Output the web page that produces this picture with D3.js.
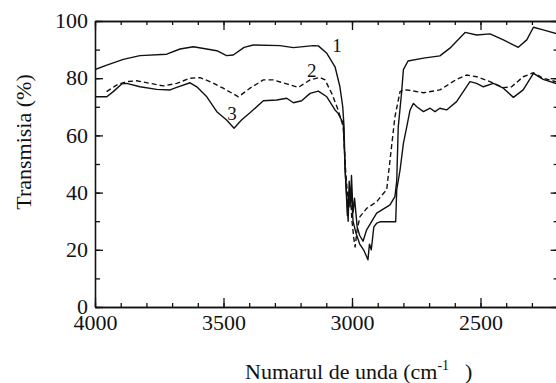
<!DOCTYPE html>
<html>
<head>
<meta charset="utf-8">
<script src="https://cdn.jsdelivr.net/npm/d3@7"></script>
<style>
	body { margin: 0; background: #fff; }
	svg text { font-family: "Liberation Serif", "DejaVu Serif", serif !important; fill: #111; }
	.axis path, .axis line { stroke: #111; stroke-width: 1.3; }
</style>
</head>
<body>
<div id="chart"></div>
<script>
"use strict";

var SERIF = "'Liberation Serif', 'DejaVu Serif', serif";

// spectrum 1 (solid, upper)
var wave1 = [4000, 3954, 3890, 3825, 3721, 3669, 3617, 3526, 3488, 3462,
	3420, 3384, 3280, 3228, 3150, 3131, 3098, 3066, 3047, 3036,
	3031, 3027, 3020, 3015, 3011, 3006, 3002, 2996, 2990, 2980,
	2970, 2957, 2943, 2904, 2852, 2833, 2826, 2820, 2807, 2800,
	2782, 2722, 2658, 2619, 2560, 2515, 2463, 2411, 2353, 2320,
	2294, 2256, 2200];
var trans1 = [83, 84.6, 86.6, 87.9, 88.4, 90.2, 91, 89.6, 87.9, 88.1,
	90.8, 91.6, 91.4, 90.7, 91.4, 91.3, 88.7, 84, 77, 70,
	63, 48, 38, 30, 44, 36, 46, 33, 38, 28,
	25, 23, 27, 32.8, 35.7, 38.6, 44, 63, 75, 83,
	86, 87, 87.8, 90.5, 96, 95.1, 95.5, 93.4, 90.8, 93.4,
	97.8, 96.9, 95.5];

// spectrum 2 (dashed)
var wave2 = [3955, 3916, 3877, 3838, 3786, 3734, 3682, 3630, 3591, 3553,
	3501, 3442, 3397, 3345, 3306, 3254, 3209, 3163, 3125, 3105,
	3079, 3054, 3034, 3025, 3015, 3008, 3000, 2993, 2988, 2980,
	2969, 2956, 2943, 2904, 2878, 2865, 2852, 2833, 2813, 2801,
	2787, 2722, 2658, 2593, 2554, 2515, 2463, 2411, 2379, 2334,
	2294, 2256, 2200];
var trans2 = [75.3, 77.6, 78.8, 79.1, 78.2, 77.3, 78.2, 80, 80.2, 78.8,
	76.5, 73.5, 76.5, 79.4, 79.4, 78, 76.8, 79.4, 80.3, 79.4,
	74.7, 68.9, 63, 48, 36, 42, 30, 24, 21, 27,
	31.6, 33, 34.5, 36.8, 39.7, 41, 51.4, 66.5, 75.3, 75.9,
	75.9, 74.9, 75.9, 79.6, 81.1, 80.5, 78.8, 76.7, 77, 80.5,
	81.9, 80, 78.6];

// spectrum 3 (solid, lower)
var wave3 = [4000, 3954, 3929, 3896, 3877, 3825, 3760, 3708, 3682, 3630,
	3604, 3565, 3526, 3488, 3459, 3430, 3397, 3345, 3293, 3254,
	3228, 3196, 3163, 3131, 3098, 3066, 3054, 3034, 3025, 3018,
	3012, 3008, 3003, 2996, 2985, 2970, 2955, 2945, 2938, 2932,
	2925, 2915, 2904, 2891, 2830, 2826, 2813, 2800, 2787, 2774,
	2761, 2748, 2722, 2696, 2677, 2658, 2632, 2593, 2541, 2515,
	2489, 2450, 2411, 2372, 2334, 2294, 2256, 2200];
var trans3 = [73.5, 73.5, 75.3, 78, 78.2, 77, 76.1, 75.9, 76.8, 78.4,
	77, 73.5, 68.3, 65.4, 62.5, 65.4, 67.9, 72.1, 72.4, 73,
	71.4, 72.1, 74.7, 75.5, 73.5, 68.9, 67.7, 64.2, 45, 32,
	40, 35, 41, 30, 26, 22, 20, 18, 16.5, 22,
	20, 28, 29.3, 29.8, 29.8, 41, 47.9, 57.2, 63, 68.9,
	71.2, 70, 68.3, 69.5, 68.3, 69.5, 68.9, 71.8, 78.8, 78.2,
	77, 78.2, 76.5, 73.3, 75.9, 81.7, 79.6, 78];

var xMajorTicks = [4000, 3500, 3000, 2500];
var yMajorTicks = [0, 20, 40, 60, 80, 100];

var curveLabels = [
	{text: "1", wave: 3058, trans: 89.3},
	{text: "2", wave: 3157, trans: 80.4},
	{text: "3", wave: 3467, trans: 65.4}
];

var W = 556, H = 383;
var margin = {left: 95, top: 21, right: 557.6, bottom: 307};

var svg = d3.select("#chart").append("svg")
	.attr("width", W)
	.attr("height", H);
svg.append("rect").attr("width", W).attr("height", H).attr("fill", "#fff");

var x = d3.scaleLinear().domain([4000, 2200]).range([margin.left, margin.right]);
var y = d3.scaleLinear().domain([0, 100]).range([margin.bottom, margin.top]);

var minorX = d3.range(2200, 4001, 100);
var minorY = d3.range(0, 101, 10);

function tickOnly(axis) {
	return axis.tickSizeOuter(0).tickFormat("");
}

// bottom
svg.append("g").attr("class", "axis")
	.attr("transform", "translate(0," + margin.bottom + ")")
	.call(tickOnly(d3.axisBottom(x).tickValues(minorX).tickSizeInner(-4)));
svg.append("g").attr("class", "axis xlab")
	.attr("transform", "translate(0," + margin.bottom + ")")
	.call(d3.axisBottom(x).tickValues(xMajorTicks).tickSizeInner(-9).tickSizeOuter(0)
		.tickPadding(7).tickFormat(d3.format("d")));
// top
svg.append("g").attr("class", "axis")
	.attr("transform", "translate(0," + margin.top + ")")
	.call(tickOnly(d3.axisTop(x).tickValues(minorX).tickSizeInner(-4)));
svg.append("g").attr("class", "axis")
	.attr("transform", "translate(0," + margin.top + ")")
	.call(tickOnly(d3.axisTop(x).tickValues(xMajorTicks).tickSizeInner(-9)));
// left
svg.append("g").attr("class", "axis")
	.attr("transform", "translate(" + margin.left + ",0)")
	.call(tickOnly(d3.axisLeft(y).tickValues(minorY).tickSizeInner(-5)));
svg.append("g").attr("class", "axis ylab")
	.attr("transform", "translate(" + margin.left + ",0)")
	.call(d3.axisLeft(y).tickValues(yMajorTicks).tickSizeInner(-8).tickSizeOuter(0)
		.tickPadding(7).tickFormat(d3.format("d")));
// right
svg.append("g").attr("class", "axis")
	.attr("transform", "translate(" + margin.right + ",0)")
	.call(tickOnly(d3.axisRight(y).tickValues(minorY).tickSizeInner(-4)));
svg.append("g").attr("class", "axis")
	.attr("transform", "translate(" + margin.right + ",0)")
	.call(tickOnly(d3.axisRight(y).tickValues(yMajorTicks).tickSizeInner(-7)));

svg.selectAll(".axis").attr("font-family", SERIF).attr("font-size", 22);
svg.selectAll(".xlab text, .ylab text")
	.attr("font-family", SERIF)
	.attr("fill", "#111");
// keep the "0" clear of the "4000" below it
svg.selectAll(".ylab text").attr("dy", "0.3em");

svg.append("clipPath").attr("id", "plotclip")
	.append("rect")
	.attr("x", margin.left).attr("y", margin.top)
	.attr("width", margin.right - margin.left)
	.attr("height", margin.bottom - margin.top);

var line = d3.line()
	.x(function(d) { return x(d[0]); })
	.y(function(d) { return y(d[1]); });

var series = [
	{w: wave1, t: trans1, dash: null},
	{w: wave2, t: trans2, dash: "5,3"},
	{w: wave3, t: trans3, dash: null}
];

var plot = svg.append("g").attr("clip-path", "url(#plotclip)");
series.forEach(function(s) {
	plot.append("path")
		.datum(d3.zip(s.w, s.t))
		.attr("fill", "none")
		.attr("stroke", "#111")
		.attr("stroke-width", 1.4)
		.attr("stroke-linejoin", "round")
		.attr("stroke-dasharray", s.dash)
		.attr("d", line);
});

svg.selectAll(".clabel")
	.data(curveLabels)
	.enter().append("text")
	.attr("class", "clabel")
	.attr("x", function(d) { return x(d.wave); })
	.attr("y", function(d) { return y(d.trans); })
	.attr("text-anchor", "middle")
	.attr("font-family", SERIF)
	.attr("font-size", 19)
	.text(function(d) { return d.text; });

// axis titles
svg.append("text")
	.attr("transform", "translate(31,142) rotate(-90)")
	.attr("text-anchor", "middle")
	.attr("font-family", SERIF)
	.attr("font-size", 22)
	.text("Transmisia (%)");

var xt = svg.append("text")
	.attr("x", 245)
	.attr("y", 379)
	.attr("font-family", SERIF)
	.attr("font-size", 22);
xt.append("tspan").text("Numarul de unda (cm");
xt.append("tspan").attr("dy", -9).attr("font-size", 14).text("-1");
xt.append("tspan").attr("dy", 9).attr("dx", 16).text(")");
</script>
</body>
</html>
